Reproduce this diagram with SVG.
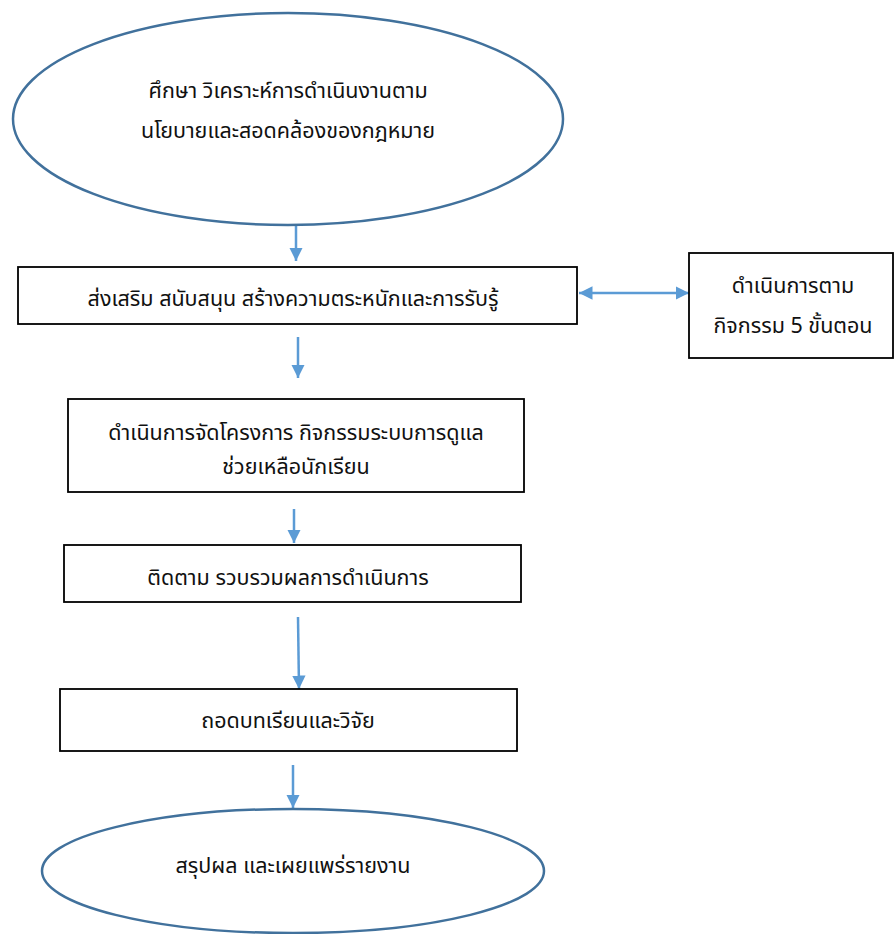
<svg xmlns="http://www.w3.org/2000/svg" width="895" height="934" viewBox="0 0 895 934">
<defs>
<style>
.oval{fill:#fff;stroke:#41719c;stroke-width:2.5}
.box{fill:#fff;stroke:#000;stroke-width:1.8}
.t{font-family:"Noto Sans","Noto Sans Thai","Leelawadee UI",Tahoma,sans-serif;font-size:21.5px;fill:#111;text-anchor:middle}
.c{stroke:#5b9bd5;stroke-width:2.5;fill:none}
</style>
<marker id="ah" viewBox="0 0 10 10" refX="10" refY="5" markerWidth="5.4" markerHeight="5.4" orient="auto-start-reverse" markerUnits="strokeWidth">
<path d="M0,0 L10,5 L0,10 z" fill="#5b9bd5"/>
</marker>
</defs>
<rect width="895" height="934" fill="#fff"/>
<g id="connectors">
<line class="c" x1="296" y1="226" x2="296" y2="261" marker-end="url(#ah)"/>
<line class="c" x1="579" y1="293" x2="689" y2="293" marker-start="url(#ah)" marker-end="url(#ah)"/>
<line class="c" x1="298" y1="337" x2="298" y2="378" marker-end="url(#ah)"/>
<line class="c" x1="294" y1="509" x2="294" y2="543" marker-end="url(#ah)"/>
<line class="c" x1="298" y1="617" x2="299" y2="689" marker-end="url(#ah)"/>
<line class="c" x1="293" y1="765" x2="293" y2="808" marker-end="url(#ah)"/>
</g>
<g id="n1">
<ellipse class="oval" cx="288" cy="119" rx="275" ry="106"/>
<text class="t" x="288" y="98">ศึกษา วิเคราะห์การดำเนินงานตาม</text>
<text class="t" x="288" y="138">นโยบายและสอดคล้องของกฎหมาย</text>
</g>
<g id="n2">
<rect class="box" x="18" y="267" width="559" height="57"/>
<text class="t" x="293" y="306">ส่งเสริม สนับสนุน สร้างความตระหนักและการรับรู้</text>
</g>
<g id="n3">
<rect class="box" x="689" y="253" width="204" height="105"/>
<text class="t" x="793" y="293">ดำเนินการตาม</text>
<text class="t" x="793" y="333">กิจกรรม 5 ขั้นตอน</text>
</g>
<g id="n4">
<rect class="box" x="68" y="399" width="456" height="93"/>
<text class="t" x="296" y="440">ดำเนินการจัดโครงการ กิจกรรมระบบการดูแล</text>
<text class="t" x="296" y="474">ช่วยเหลือนักเรียน</text>
</g>
<g id="n5">
<rect class="box" x="64" y="545" width="457" height="57"/>
<text class="t" x="288" y="585">ติดตาม รวบรวมผลการดำเนินการ</text>
</g>
<g id="n6">
<rect class="box" x="60" y="689" width="457" height="62"/>
<text class="t" x="288" y="728">ถอดบทเรียนและวิจัย</text>
</g>
<g id="n7">
<ellipse class="oval" cx="293" cy="871" rx="251" ry="62"/>
<text class="t" x="293" y="873">สรุปผล และเผยแพร่รายงาน</text>
</g>
</svg>
